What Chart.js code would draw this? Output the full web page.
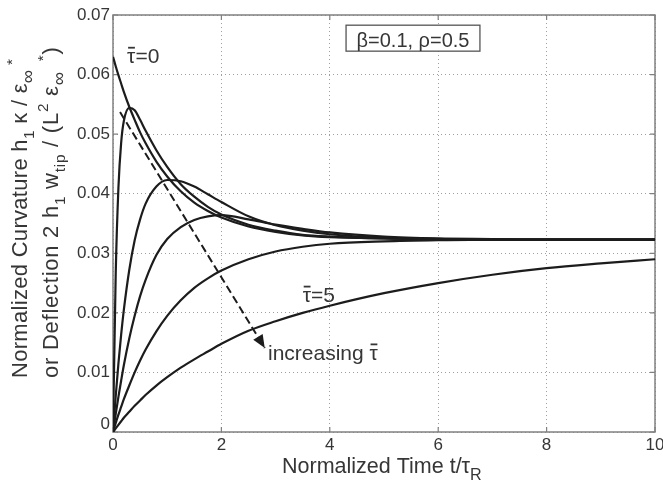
<!DOCTYPE html>
<html>
<head>
<meta charset="utf-8">
<script src="https://cdn.jsdelivr.net/npm/chart.js@4/dist/chart.umd.min.js"></script>
<style>
html,body{margin:0;padding:0;background:#fff;}
#wrap{width:663px;height:486px;position:relative;}
canvas{display:block;}
</style>
</head>
<body>
<div id="wrap"><canvas id="c" width="663" height="486"></canvas></div>
<script>
// ---- data ----
const timeValues = [0,0.05,0.1,0.15,0.2,0.3,0.4,0.5,0.6,0.8,1,1.25,1.5,1.75,2,2.5,3,3.5,4,5,6,7,8,9,10];
const seriesTau0   = [0.0630,0.0614,0.0599,0.0585,0.0571,0.0546,0.0524,0.0503,0.0485,0.0454,0.0429,0.0404,0.0385,0.0371,0.0360,0.0345,0.0336,0.0330,0.0327,0.0325,0.0324,0.0323,0.0323,0.0323,0.0323];
const seriesTauB   = [0,0.0265,0.0410,0.0485,0.0522,0.0544,0.0540,0.0524,0.0506,0.0473,0.0445,0.0416,0.0395,0.0378,0.0365,0.0348,0.0338,0.0331,0.0328,0.0325,0.0324,0.0323,0.0323,0.0323,0.0323];
const seriesTauC   = [0,0.0060,0.0115,0.0163,0.0205,0.0272,0.0322,0.0357,0.0383,0.0412,0.0423,0.0421,0.0412,0.0399,0.0386,0.0362,0.0347,0.0338,0.0332,0.0326,0.0324,0.0323,0.0323,0.0323,0.0323];
const seriesTauD   = [0,0.0030,0.0059,0.0086,0.0112,0.0157,0.0195,0.0228,0.0255,0.0297,0.0324,0.0344,0.0356,0.0362,0.0364,0.0357,0.0348,0.0341,0.0335,0.0328,0.0325,0.0324,0.0323,0.0323,0.0323];
const seriesTauE   = [0,0.0015,0.0029,0.0042,0.0055,0.0078,0.0100,0.0120,0.0138,0.0169,0.0195,0.0221,0.0242,0.0258,0.0271,0.0290,0.0303,0.0311,0.0316,0.0320,0.0322,0.0323,0.0323,0.0323,0.0323];
const seriesTau5   = [0,0.0006,0.0012,0.0018,0.0024,0.0034,0.0044,0.0053,0.0062,0.0078,0.0092,0.0108,0.0122,0.0135,0.0148,0.0170,0.0186,0.0200,0.0212,0.0233,0.0250,0.0264,0.0275,0.0283,0.0290];
const seriesNames  = ['tau=0','tau B','tau C','tau D','tau E','tau=5'];
const xTickValues  = [0,2,4,6,8,10];
const yTickValues  = [0,0.01,0.02,0.03,0.04,0.05,0.06,0.07];
const arrowX = [0.13, 2.8];
const arrowY = [0.0537, 0.0141];
const labelTau0 = {x:0.26, y:0.0619, text:'τ=0'};
const labelTau5 = {x:3.5, y:0.0218, text:'τ=5'};
const labelIncr = {x:2.86, y:0.0121, text:'increasing τ'};
const paramText = 'β=0.1, ρ=0.5';
const paramBox = {x0:4.30, x1:6.77, y0:0.06393, y1:0.06829};

const FONT = "'Liberation Sans', Arial, sans-serif";
const INK = '#1c1c1c';
const TXT = '#363636';

function toXY(xs, ys){ return xs.map((x,i)=>({x:x, y:ys[i]})); }

const allSeries = [seriesTau0, seriesTauB, seriesTauC, seriesTauD, seriesTauE, seriesTau5];
const datasets = allSeries.map((s,i)=>({
  label: seriesNames[i],
  data: toXY(timeValues, s),
  borderColor: INK,
  borderWidth: 2.2,
  pointRadius: 0,
  fill: false,
  cubicInterpolationMode: 'monotone'
}));
datasets.push({
  label: 'arrow',
  data: toXY(arrowX, arrowY),
  borderColor: INK,
  borderWidth: 2,
  borderDash: [8,4],
  pointRadius: 0,
  fill: false,
  tension: 0
});

function drawRich(ctx, runs, x, y, size){
  let cx = x;
  runs.forEach(r=>{
    const k = r.k || 0.7;
    const s = (r.sub||r.sup) ? size*k : size;
    ctx.font = s + 'px ' + FONT;
    const dy = r.sub ? size*0.32 : (r.sup ? -size*0.45 : 0);
    ctx.fillText(r.t, cx, y+dy);
    cx += ctx.measureText(r.t).width;
  });
  return cx - x;
}
function tauText(ctx, text, x, y, size){
  ctx.font = size + 'px ' + FONT;
  ctx.textAlign = 'left';
  ctx.textBaseline = 'alphabetic';
  ctx.fillText(text, x, y);
  const idx = text.indexOf('τ');
  const pre = ctx.measureText(text.slice(0, idx)).width;
  const w = ctx.measureText('τ').width;
  ctx.save();
  ctx.strokeStyle = TXT; ctx.lineWidth = 1.8;
  ctx.beginPath();
  ctx.moveTo(x+pre+1, y-size*0.74);
  ctx.lineTo(x+pre+w-0.5, y-size*0.74);
  ctx.stroke();
  ctx.restore();
}

const decor = {
  id: 'decor',
  beforeDatasetsDraw(chart){
    const ctx = chart.ctx, a = chart.chartArea;
    const xs = chart.scales.x, ys = chart.scales.y;
    ctx.save();
    ctx.strokeStyle = '#808080';
    ctx.lineWidth = 1.5;
    ctx.strokeRect(a.left, a.top, a.right-a.left, a.bottom-a.top);
    ctx.lineWidth = 1.2;
    ctx.beginPath();
    xTickValues.forEach(v=>{
      const p = xs.getPixelForValue(v);
      ctx.moveTo(p, a.bottom); ctx.lineTo(p, a.bottom-5);
      ctx.moveTo(p, a.top); ctx.lineTo(p, a.top+5);
    });
    yTickValues.forEach(v=>{
      const p = ys.getPixelForValue(v);
      ctx.moveTo(a.left, p); ctx.lineTo(a.left+5, p);
      ctx.moveTo(a.right, p); ctx.lineTo(a.right-5, p);
    });
    ctx.stroke();
    ctx.restore();
  },
  afterDatasetsDraw(chart){
    const ctx = chart.ctx, a = chart.chartArea;
    const xs = chart.scales.x, ys = chart.scales.y;
    ctx.save();
    // arrow head
    const x1 = xs.getPixelForValue(arrowX[0]), y1 = ys.getPixelForValue(arrowY[0]);
    const x2 = xs.getPixelForValue(arrowX[1]), y2 = ys.getPixelForValue(arrowY[1]);
    const ang = Math.atan2(y2-y1, x2-x1);
    const L = 13, W = 5.5;
    ctx.fillStyle = INK;
    ctx.beginPath();
    ctx.moveTo(x2, y2);
    ctx.lineTo(x2 - L*Math.cos(ang) + W*Math.sin(ang), y2 - L*Math.sin(ang) - W*Math.cos(ang));
    ctx.lineTo(x2 - L*Math.cos(ang) - W*Math.sin(ang), y2 - L*Math.sin(ang) + W*Math.cos(ang));
    ctx.closePath();
    ctx.fill();
    // annotations
    ctx.fillStyle = TXT;
    tauText(ctx, labelTau0.text, xs.getPixelForValue(labelTau0.x), ys.getPixelForValue(labelTau0.y), 21);
    tauText(ctx, labelTau5.text, xs.getPixelForValue(labelTau5.x), ys.getPixelForValue(labelTau5.y), 21);
    tauText(ctx, labelIncr.text, xs.getPixelForValue(labelIncr.x), ys.getPixelForValue(labelIncr.y), 21);
    // parameter box
    const bx0 = xs.getPixelForValue(paramBox.x0), bx1 = xs.getPixelForValue(paramBox.x1);
    const by0 = ys.getPixelForValue(paramBox.y1), by1 = ys.getPixelForValue(paramBox.y0);
    ctx.fillStyle = '#ffffff';
    ctx.fillRect(bx0, by0, bx1-bx0, by1-by0);
    ctx.strokeStyle = '#555555';
    ctx.lineWidth = 1.3;
    ctx.strokeRect(bx0, by0, bx1-bx0, by1-by0);
    ctx.fillStyle = TXT;
    ctx.font = '20px ' + FONT;
    ctx.textAlign = 'center';
    ctx.textBaseline = 'alphabetic';
    ctx.fillText(paramText, (bx0+bx1)/2, by1-4);
    ctx.restore();
  },
  afterDraw(chart){
    const ctx = chart.ctx, a = chart.chartArea;
    const ys = chart.scales.y;
    ctx.save();
    ctx.fillStyle = TXT;
    ctx.textAlign = 'left';
    ctx.textBaseline = 'alphabetic';
    // y "0" label (shifted up as in the reference)
    ctx.font = '17px ' + FONT;
    ctx.textAlign = 'right';
    ctx.fillText('0', a.left-3, ys.getPixelForValue(0)-3);
    ctx.textAlign = 'left';
    // x title
    const xRuns = [{t:'Normalized Time t/τ'},{t:'R',sub:true,k:0.75}];
    drawRich(ctx, xRuns, 282, 473, 21.5);
    // y title (two lines, rotated)
    const line1 = [{t:'Normalized Curvature h'},{t:'1',sub:true},{t:' κ / ε'},{t:'∞',sub:true,k:0.85},{t:' *',sup:true}];
    const line2 = [{t:'or Deflection 2 h'},{t:'1',sub:true},{t:' w'},{t:'tip',sub:true},{t:' / (L'},{t:'2',sup:true},{t:' ε'},{t:'∞',sub:true,k:0.85},{t:'  *',sup:true},{t:')'}];
    ctx.save();
    if ('letterSpacing' in ctx) ctx.letterSpacing = '0.3px';
    ctx.translate(27, 378);
    ctx.rotate(-Math.PI/2);
    drawRich(ctx, line1, 0, 0, 22);
    ctx.restore();
    ctx.save();
    if ('letterSpacing' in ctx) ctx.letterSpacing = '0.75px';
    ctx.translate(58, 378);
    ctx.rotate(-Math.PI/2);
    drawRich(ctx, line2, 0, 0, 22);
    ctx.restore();
    ctx.restore();
  }
};

new Chart(document.getElementById('c'), {
  type: 'line',
  data: { datasets: datasets },
  plugins: [decor],
  options: {
    responsive: false,
    animation: false,
    devicePixelRatio: 1,
    layout: { padding: { left: 0, right: 8, top: 15, bottom: 0 } },
    plugins: { legend: { display: false }, tooltip: { enabled: false } },
    scales: {
      x: {
        type: 'linear', min: 0, max: 10,
        afterBuildTicks(scale){ scale.ticks = xTickValues.map(v=>({value:v})); },
        afterFit(scale){ scale.height = 54; scale.paddingLeft = 0; scale.paddingRight = 0; },
        ticks: { color: TXT, font: { size: 17, family: FONT }, padding: 3, maxRotation: 0,
                 callback: v => String(v) },
        grid: { color: '#a0a0a0', lineWidth: 1, drawTicks: false },
        border: { display: false, dash: [1,3] }
      },
      y: {
        type: 'linear', min: 0, max: 0.07,
        afterBuildTicks(scale){ scale.ticks = yTickValues.map(v=>({value:v})); },
        afterFit(scale){ scale.width = 113; scale.paddingTop = 0; scale.paddingBottom = 0; },
        ticks: { color: TXT, font: { size: 17, family: FONT }, padding: 3,
                 callback: v => (Math.abs(v) < 1e-9 ? '' : v.toFixed(2)) },
        grid: { color: '#a0a0a0', lineWidth: 1, drawTicks: false },
        border: { display: false, dash: [1,3] }
      }
    }
  }
});
</script>
</body>
</html>
